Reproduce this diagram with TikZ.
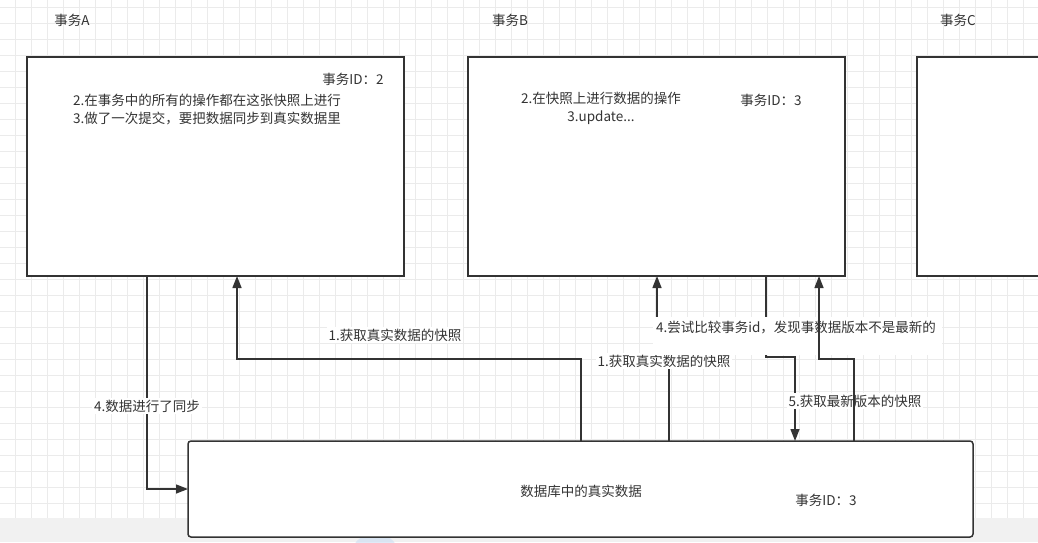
\documentclass[tikz,border=0pt]{standalone}
\usepackage{fontspec}
\setmainfont{Noto Sans CJK SC}
\usetikzlibrary{arrows.meta,calc}
\definecolor{ink}{HTML}{333333}
\definecolor{gridc}{HTML}{EBEBEB}
\definecolor{stripc}{HTML}{F1F1F1}
\definecolor{blobc}{HTML}{C9DCF2}
\begin{document}
\begin{tikzpicture}[x=1pt,y=-1pt,
  box/.style={draw=ink,line width=1.5pt,fill=white,anchor=north west,inner sep=0pt,outer sep=0pt},
  conn/.style={draw=ink,line width=1.4pt},
  arr/.style={conn,-{Triangle[length=12pt,width=9pt]}},
  txt/.style={text=ink,inner sep=0pt,font=\fontsize{13.5}{18}\selectfont},
  lab/.style={txt,fill=white,inner sep=2pt},
  labbg/.style={fill=white,inner sep=0pt}]
\useasboundingbox (0,0) rectangle (1038,542);
\clip (0,0) rectangle (1038,542);
% background grid
\fill[white] (0,0) rectangle (1038,518);
\foreach \x in {15,31,...,1038} \draw[gridc,line width=0.8pt] (\x,0) -- (\x,518);
\foreach \y in {7,23,...,518} \draw[gridc,line width=0.8pt] (0,\y) -- (1038,\y);
\fill[stripc] (0,518) rectangle (1038,542);
\fill[blobc,opacity=0.6] (375,550) ellipse (22pt and 16pt);
% titles
\node[txt] (tA) at (72,20) {事务A};
\node[txt] (tB) at (510,20) {事务B};
\node[txt] (tC) at (958,20) {事务C};
% boxes
\node[box,minimum width=377,minimum height=219] (A) at (27,57) {};
\node[box,minimum width=377,minimum height=219] (B) at (468,57) {};
\node[box,minimum width=200,minimum height=219] (C) at (917,57) {};
\node[box,rounded corners=3pt,minimum width=785,minimum height=96] (DB) at (188,441) {};
% box texts
\node[txt] (idA) at (353,79) {事务ID：2};
\node[txt,align=left,anchor=west] (descA) at (73,110) {2.在事务中的所有的操作都在这张快照上进行\\3.做了一次提交，要把数据同步到真实数据里};
\node[txt,align=center] (descB) at (601,108.5) {2.在快照上进行数据的操作\\3.update...};
\node[txt] (idB) at (771,100) {事务ID：3};
\node[txt] (dbt) at (581,491) {数据库中的真实数据};
\node[txt] (idDB) at (826,500) {事务ID：3};
% connectors under labels
\draw[arr] ($(A.south west)+(120,0)$) |- (DB.west);
\draw[arr] ($(DB.north west)+(393,0)$) |- ($(A.south west)+(210,83)$) -- ($(A.south west)+(210,0)$);
\draw[arr] ($(DB.north west)+(481,0)$) -- ++(0,-96) -| ($(B.south west)+(189,0)$);
\draw[arr] ($(B.south west)+(298,0)$) |- ($(DB.north west)+(607,-84)$) -- ($(DB.north west)+(607,0)$);
% labels
\node[lab] (l1) at (395,335) {1.获取真实数据的快照};
\node[lab] (l2) at (147,406) {4.数据进行了同步};
\node[lab] (l3) at (664,361) {1.获取真实数据的快照};
\node[labbg,minimum width=289,minimum height=38] (l4bg) at (797,336) {};
\node[txt] (l4) at (796,328) {4.尝试比较事务id，发现事数据版本不是最新的};
\node[lab] (l5) at (855,401) {5.获取最新版本的快照};
% connector over labels
\draw[arr] ($(DB.north west)+(666,0)$) |- ($(B.south west)+(351,83)$) -- ($(B.south west)+(351,0)$);
\end{tikzpicture}
\end{document}
